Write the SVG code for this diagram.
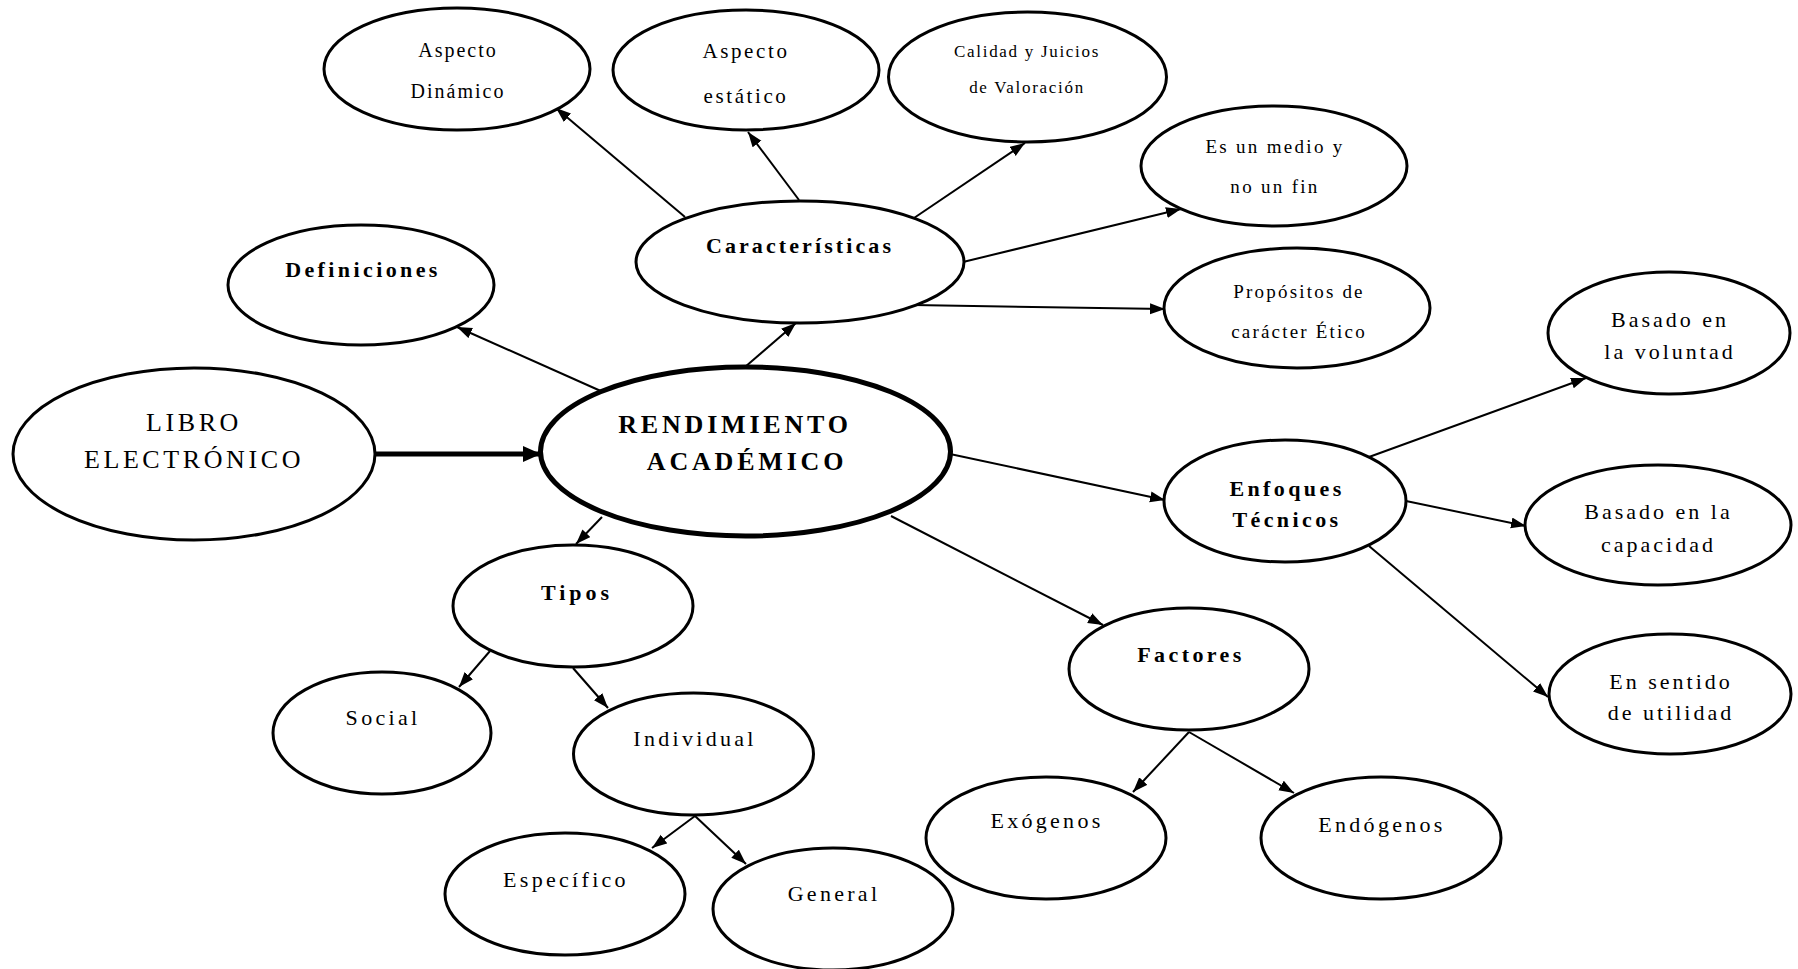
<svg xmlns="http://www.w3.org/2000/svg" width="1798" height="969" viewBox="0 0 1798 969">
<style>
.n ellipse{fill:#fff;stroke:#000;stroke-width:3}
.n text{font-family:"Liberation Serif","Times New Roman",serif;fill:#000;text-anchor:middle}
.b22{font-size:22px;font-weight:bold;letter-spacing:3.4px}
.r22{font-size:22px;letter-spacing:3.3px}
.r19{font-size:19px;letter-spacing:2.2px}
.r17{font-size:17px;letter-spacing:1.7px}
.c line{stroke:#000;stroke-width:2;marker-end:url(#ah)}
</style>
<defs>
<marker id="ah" markerUnits="userSpaceOnUse" markerWidth="16" markerHeight="12" refX="15" refY="5.5" orient="auto"><path d="M0,0 L15,5.5 L0,11 z" fill="#000"/></marker>
<marker id="ahb" markerUnits="userSpaceOnUse" markerWidth="20" markerHeight="18" refX="18" refY="8" orient="auto"><path d="M0,0 L18,8 L0,16 z" fill="#000"/></marker>
</defs>
<rect width="1798" height="969" fill="#fff"/>
<g id="connectors" class="c">
<line x1="375" y1="454" x2="541" y2="454" style="stroke-width:5;marker-end:url(#ahb)"/>
<line x1="603" y1="392" x2="457" y2="327"/>
<line x1="745" y1="367" x2="796" y2="323"/>
<line x1="685" y1="217" x2="556" y2="108"/>
<line x1="799" y1="200" x2="748" y2="132"/>
<line x1="914" y1="218" x2="1025" y2="143"/>
<line x1="963" y1="262" x2="1181" y2="209"/>
<line x1="913" y1="305" x2="1165" y2="309"/>
<line x1="950" y1="454" x2="1165" y2="500"/>
<line x1="602" y1="517" x2="576" y2="544"/>
<line x1="891" y1="516" x2="1103" y2="625"/>
<line x1="490" y1="651" x2="459" y2="687"/>
<line x1="573" y1="668" x2="608" y2="708"/>
<line x1="695" y1="816" x2="652" y2="848"/>
<line x1="695" y1="816" x2="746" y2="864"/>
<line x1="1189" y1="732" x2="1133" y2="792"/>
<line x1="1189" y1="732" x2="1294" y2="793"/>
<line x1="1369" y1="457" x2="1586" y2="378"/>
<line x1="1406" y1="501" x2="1526" y2="526"/>
<line x1="1369" y1="546" x2="1548" y2="697"/>
</g>
<g id="aspecto-dinamico" class="n"><ellipse cx="457" cy="69" rx="133" ry="61"/><text x="458" y="57" style="font-size:20px;letter-spacing:2px">Aspecto</text><text x="458" y="98" style="font-size:20px;letter-spacing:2px">Dinámico</text></g>
<g id="aspecto-estatico" class="n"><ellipse cx="746" cy="70" rx="133" ry="60"/><text x="746" y="58" style="font-size:21px;letter-spacing:2.6px">Aspecto</text><text x="746" y="103" style="font-size:21px;letter-spacing:2.6px">estático</text></g>
<g id="calidad" class="n"><ellipse cx="1027.5" cy="77" rx="139" ry="65"/><text class="r17" x="1027" y="57">Calidad y Juicios</text><text class="r17" x="1027" y="93">de Valoración</text></g>
<g id="medio" class="n"><ellipse cx="1274" cy="166" rx="133" ry="60"/><text class="r19" x="1275" y="153" style="letter-spacing:2.3px">Es un medio y</text><text class="r19" x="1275" y="193" style="letter-spacing:2.3px">no un fin</text></g>
<g id="propositos" class="n"><ellipse cx="1297" cy="308" rx="133" ry="60"/><text class="r19" x="1299" y="298">Propósitos de</text><text class="r19" x="1299" y="338">carácter Ético</text></g>
<g id="caracteristicas" class="n"><ellipse cx="800" cy="262" rx="164" ry="61"/><text class="b22" x="800" y="253" style="letter-spacing:3.1px">Características</text></g>
<g id="definiciones" class="n"><ellipse cx="361" cy="285" rx="133" ry="60"/><text class="b22" x="363" y="277">Definiciones</text></g>
<g id="libro" class="n"><ellipse cx="194" cy="454" rx="181" ry="86"/><text x="194" y="431" style="font-size:26px;letter-spacing:3.6px">LIBRO</text><text x="194" y="468" style="font-size:26px;letter-spacing:3.6px">ELECTRÓNICO</text></g>
<g id="rendimiento" class="n"><ellipse cx="745.5" cy="451.5" rx="205" ry="84.5" style="stroke-width:5"/><text x="735" y="433" style="font-size:26px;font-weight:bold;letter-spacing:3.8px">RENDIMIENTO</text><text x="747" y="470" style="font-size:26px;font-weight:bold;letter-spacing:3.8px">ACADÉMICO</text></g>
<g id="enfoques" class="n"><ellipse cx="1285" cy="501" rx="121" ry="61"/><text class="b22" x="1287" y="496">Enfoques</text><text class="b22" x="1287" y="526.5">Técnicos</text></g>
<g id="voluntad" class="n"><ellipse cx="1669" cy="333" rx="121" ry="61"/><text class="r22" x="1670" y="327" style="letter-spacing:3px">Basado en</text><text class="r22" x="1670" y="359" style="letter-spacing:3px">la voluntad</text></g>
<g id="capacidad" class="n"><ellipse cx="1658" cy="525" rx="133" ry="60"/><text class="r22" x="1658.5" y="519" style="letter-spacing:3px">Basado en la</text><text class="r22" x="1658.5" y="552" style="letter-spacing:3px">capacidad</text></g>
<g id="sentido" class="n"><ellipse cx="1670" cy="694" rx="121" ry="60"/><text class="r22" x="1671" y="689" style="letter-spacing:3px">En sentido</text><text class="r22" x="1671" y="720" style="letter-spacing:3px">de utilidad</text></g>
<g id="factores" class="n"><ellipse cx="1189" cy="669" rx="120" ry="61"/><text class="b22" x="1191" y="662">Factores</text></g>
<g id="exogenos" class="n"><ellipse cx="1046" cy="838" rx="120" ry="61"/><text class="r22" x="1047" y="828">Exógenos</text></g>
<g id="endogenos" class="n"><ellipse cx="1381" cy="838" rx="120" ry="61"/><text class="r22" x="1382" y="832">Endógenos</text></g>
<g id="tipos" class="n"><ellipse cx="573" cy="606" rx="120" ry="61"/><text class="b22" x="577" y="600" style="letter-spacing:4px">Tipos</text></g>
<g id="social" class="n"><ellipse cx="382" cy="733" rx="109" ry="61"/><text class="r22" x="383" y="725">Social</text></g>
<g id="individual" class="n"><ellipse cx="693.5" cy="754" rx="120" ry="61"/><text class="r22" x="695" y="746">Individual</text></g>
<g id="especifico" class="n"><ellipse cx="565" cy="894" rx="120" ry="61"/><text class="r22" x="566" y="887">Específico</text></g>
<g id="general" class="n"><ellipse cx="833" cy="909" rx="120" ry="61"/><text class="r22" x="834" y="901">General</text></g>
</svg>
